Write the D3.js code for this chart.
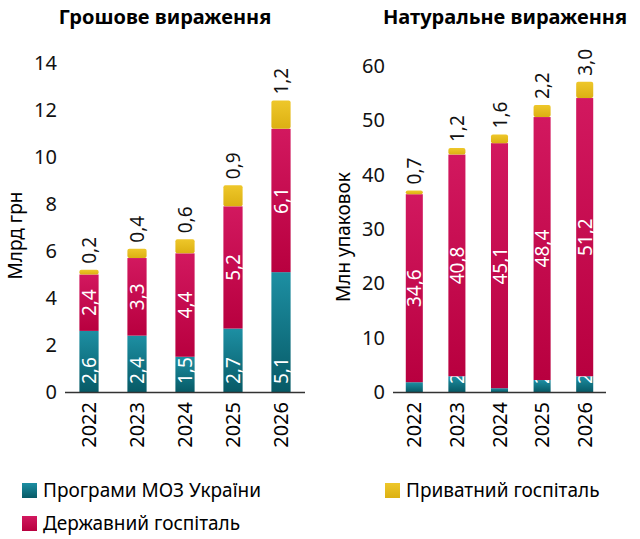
<!DOCTYPE html><html><head><meta charset="utf-8"><script src="https://cdn.jsdelivr.net/npm/d3@7"></script>
<style>body{margin:0;background:#fff}text{font-family:"Noto Sans",sans-serif}</style></head><body><svg id="c" width="640" height="539"></svg><script>
const years=["2022","2023","2024","2025","2026"];
const moneyMoz=[2.6,2.4,1.5,2.7,5.1];
const moneyState=[2.4,3.3,4.4,5.2,6.1];
const moneyPriv=[0.2,0.4,0.6,0.9,1.2];
const moneyTicks=[0,2,4,6,8,10,12,14];
const unitsMoz=[1.8,2.9,0.7,2.2,2.9];
const unitsState=[34.6,40.8,45.1,48.4,51.2];
const unitsPriv=[0.7,1.2,1.6,2.2,3.0];
const unitsTicks=[0,10,20,30,40,50,60];
const seriesNames=["Програми МОЗ України","Державний госпіталь","Приватний госпіталь"];
const svg=d3.select("#c");
const defs=svg.append("defs");
function grad(id,c1,c2){const g=defs.append("linearGradient").attr("id",id).attr("x1",0).attr("x2",0).attr("y1",0).attr("y2",1);g.append("stop").attr("offset","0%").attr("stop-color",c1);g.append("stop").attr("offset","100%").attr("stop-color",c2);}
grad("gT","#1d8fa3","#075a66");grad("gR","#d2185f","#b8003f");grad("gY","#eec72a","#dcb012");
const fills=["url(#gT)","url(#gR)","url(#gY)"];
const fmt=v=>String(v.toFixed(1)).replace(".",",");
function panel(o){
 const x=d3.scaleBand().domain(years).range([o.x0,o.x1]).paddingInner(0.6).paddingOuter(0.3);
 const y=d3.scaleLinear().domain([0,o.max]).range([392,o.top]);
 const g=svg.append("g");
 g.append("text").attr("x",o.tx).attr("y",24).attr("text-anchor","middle").attr("font-weight","bold").attr("font-size",20).text(o.title);
 const ax=g.append("g").attr("transform",`translate(${o.x0-8},0)`).call(d3.axisLeft(y).tickValues(o.ticks).tickSize(0).tickPadding(0));
 ax.select(".domain").remove();ax.selectAll("text").attr("font-size",20).attr("fill","#111").style("font-family","'Noto Sans'");
 g.append("text").attr("transform",`translate(${o.lx},${(392+o.top)/2+8}) rotate(-90)`).attr("text-anchor","middle").attr("font-size",19).text(o.label);
 const st=d3.stack().keys([0,1,2])(years.map((yy,i)=>[o.s[0][i],o.s[1][i],o.s[2][i]]));
 st.forEach((layer,k)=>{layer.forEach((d,i)=>{
   const bx=x(years[i]),bw=x.bandwidth(),y0=y(d[0]),y1=y(d[1]);
   g.append("rect").attr("x",bx).attr("y",y1).attr("width",bw).attr("height",Math.max(0,y0-y1)).attr("fill",fills[k]).attr("rx",k==2?2:0);
   const v=o.s[k][i],cx=bx+bw/2;
   if(k==0){g.append("text").attr("transform",`translate(${cx+7},384) rotate(-90)`).attr("text-anchor","start").attr("fill","#fff").attr("font-size",19).text(fmt(v));}
   else if(k==1){g.append("text").attr("transform",`translate(${cx+7},${(y0+y1)/2}) rotate(-90)`).attr("text-anchor","middle").attr("fill","#fff").attr("font-size",19).text(fmt(v));}
   else{g.append("text").attr("transform",`translate(${cx+7},${y1-6}) rotate(-90)`).attr("text-anchor","start").attr("fill","#111").attr("font-size",19).text(fmt(v));}
 });});
 g.append("line").attr("x1",o.x0).attr("x2",o.x1).attr("y1",392.5).attr("y2",392.5).attr("stroke","#333").attr("stroke-width",1.3);
 years.forEach(yy=>g.append("text").attr("transform",`translate(${x(yy)+x.bandwidth()/2+7},402) rotate(-90)`).attr("text-anchor","end").attr("font-size",20).text(yy));
}
panel({x0:65,x1:305,max:14,top:63,ticks:moneyTicks,title:"Грошове вираження",tx:165,lx:22,label:"Млрд грн",s:[moneyMoz,moneyState,moneyPriv]});
panel({x0:393,x1:606,max:60,top:66,ticks:unitsTicks,title:"Натуральне вираження",tx:505,lx:350,label:"Млн упаковок",s:[unitsMoz,unitsState,unitsPriv]});
const leg=[[22,483,0],[22,516,1],[385,483,2]];
leg.forEach(([lx,ly,k])=>{svg.append("rect").attr("x",lx).attr("y",ly).attr("width",15).attr("height",15).attr("fill",fills[k]);
 svg.append("text").attr("x",lx+21).attr("y",ly+14).attr("font-size",19).text(seriesNames[k]);});
</script></body></html>
